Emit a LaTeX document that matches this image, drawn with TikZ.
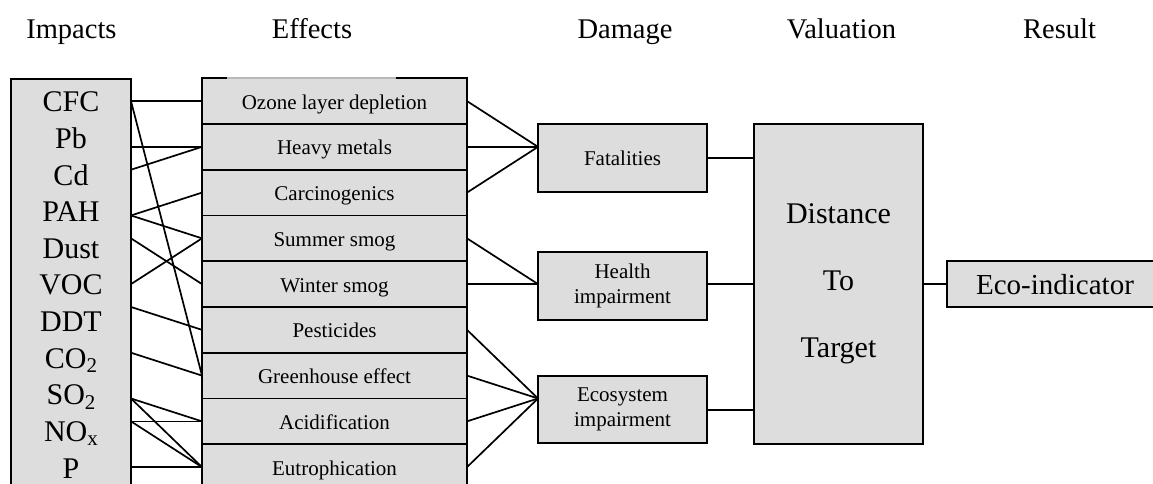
\documentclass[tikz,border=0pt]{standalone}
\usepackage{fontspec}
\setmainfont{Liberation Serif}
\definecolor{boxfill}{RGB}{221,221,221}
\newcommand{\lowsub}[1]{\raisebox{-4.5pt}{\fontsize{21}{21}\selectfont #1}}
\begin{document}
\begin{tikzpicture}[x=1pt,y=-1pt,
  boxst/.style={draw=black, fill=boxfill, line width=1.9pt, rectangle, inner sep=0pt, outer sep=0pt},
  rowst/.style={boxst, minimum width=265pt, minimum height=45.75pt, text height=18pt, text depth=2pt, font=\fontsize{21}{25}\selectfont},
  dmgst/.style={boxst, minimum width=169pt, minimum height=68pt, align=center, font=\fontsize{21}{25}\selectfont},
  impst/.style={anchor=base, font=\fontsize{30}{36}\selectfont, inner sep=0pt},
  headst/.style={anchor=base, font=\fontsize{28.5}{34}\selectfont, inner sep=0pt},
  wire/.style={line width=1.7pt}]
\useasboundingbox (0,0) rectangle (1153,484);
\clip (0,0) rectangle (1153,484);

% column headings
\node[headst] (hImp) at (71.4,38.3) {Impacts};
\node[headst] (hEff) at (312,38.3) {Effects};
\node[headst] (hDmg) at (625,38.3) {Damage};
\node[headst] (hVal) at (841.5,38.3) {Valuation};
\node[headst] (hRes) at (1059.5,38.3) {Result};

% impacts column
\node[boxst, minimum width=120pt, minimum height=441pt] (imp) at (71,299.5) {};
\node[impst] (cfc) at (71,111.7) {CFC};
\node[impst] (pb)  at (71,148.3) {Pb};
\node[impst] (cd)  at (71,185.0) {Cd};
\node[impst] (pah) at (71,221.6) {PAH};
\node[impst] (dust) at (71,258.2) {Dust};
\node[impst] (voc) at (71,294.9) {VOC};
\node[impst] (ddt) at (71,331.5) {DDT};
\node[impst] (co2) at (71,368.1) {CO\lowsub{2}};
\node[impst] (so2) at (71,404.7) {SO\lowsub{2}};
\node[impst] (nox) at (71,441.4) {NO\lowsub{x}};
\node[impst] (p)   at (71,478.0) {P};

% effects column
\node[rowst] (oz) at (334.5,101.1)  {Ozone layer depletion};
\node[rowst] (hm) at (334.5,146.85) {Heavy metals};
\node[rowst] (cg) at (334.5,192.6)  {Carcinogenics};
\node[rowst] (ss) at (334.5,238.35) {Summer smog};
\node[rowst] (ws) at (334.5,284.1)  {Winter smog};
\node[rowst] (pe) at (334.5,329.85) {Pesticides};
\node[rowst] (gh) at (334.5,375.6)  {Greenhouse effect};
\node[rowst] (ac) at (334.5,421.35) {Acidification};
\node[rowst] (eu) at (334.5,467.1)  {Eutrophication};
\draw[gray!55, line width=1.9pt] ([xshift=25pt]oz.north west) -- ([xshift=-71pt]oz.north east);

% damage column
\node[dmgst] (fat) at (622.5,158.2) {Fatalities};
\node[dmgst] (hlt) at (622.5,286) {Health\\impairment};
\node[dmgst, minimum height=67.3pt] (eco) at (622.5,409.7) {Ecosystem\\impairment};

% valuation and result
\node[boxst, minimum width=169pt, minimum height=320pt, align=center, font=\fontsize{30}{67}\selectfont] (dtt) at (838.5,284) {Distance\\To\\Target};
\node[boxst, minimum width=216pt, minimum height=46.3pt, font=\fontsize{29}{34}\selectfont] (ind) at (1055,284.2) {Eco-indicator};

% impacts to effects
\draw[wire] (imp.east |- oz.west) -- (oz.west);
\draw[wire] (imp.east |- oz.west) -- (gh.west);
\draw[wire] (imp.east |- hm.west) -- (hm.west);
\draw[wire] (imp.east |- hm.south) -- (hm.west);
\draw[wire] (imp.east |- cg.south) -- (cg.west);
\draw[wire] (imp.east |- cg.south) -- (ss.west);
\draw[wire] (imp.east |- ss.west) -- (ws.west);
\draw[wire] (imp.east |- ws.west) -- (ss.west);
\draw[wire] (imp.east |- ws.south) -- (pe.west);
\draw[wire] (imp.east |- pe.south) -- (gh.west);
\draw[wire] (imp.east |- gh.south) -- (ac.west);
\draw[wire] (imp.east |- gh.south) -- (eu.west);
\draw[wire] (imp.east |- ac.west) -- (ac.west);
\draw[wire] (imp.east |- ac.west) -- (eu.west);
\draw[wire] (imp.east |- eu.west) -- (eu.west);

% effects to damage
\draw[wire] (oz.east) -- (fat.west |- hm.east);
\draw[wire] (hm.east) -- (fat.west |- hm.east);
\draw[wire] (cg.east) -- (fat.west |- hm.east);
\draw[wire] (ss.east) -- (hlt.west |- ws.east);
\draw[wire] (ws.east) -- (hlt.west |- ws.east);
\draw[wire] (pe.east) -- (eco.west |- gh.south);
\draw[wire] (gh.east) -- (eco.west |- gh.south);
\draw[wire] (ac.east) -- (eco.west |- gh.south);
\draw[wire] (eu.east) -- (eco.west |- gh.south);

% damage to valuation to result
\draw[wire] (fat.east) -- (fat.east -| dtt.west);
\draw[wire] (hlt.east |- ws.east) -- (dtt.west |- ws.east);
\draw[wire] (eco.east) -- (eco.east -| dtt.west);
\draw[wire] (dtt.east |- ind.west) -- (ind.west);
\end{tikzpicture}
\end{document}
